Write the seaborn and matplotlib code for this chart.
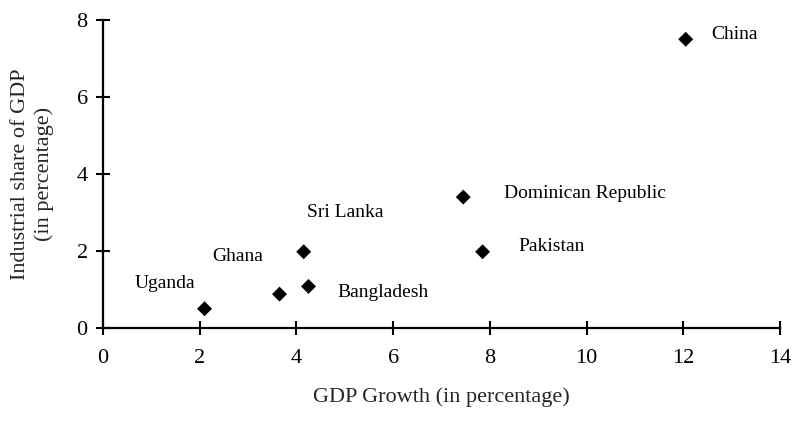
import matplotlib
matplotlib.use("Agg")
import matplotlib.pyplot as plt
import seaborn as sns
import pandas as pd

countries = ["Uganda", "Ghana", "Bangladesh", "Sri Lanka", "Pakistan", "Dominican Republic", "China"]
gdp_growth = [2.1, 3.65, 4.25, 4.15, 7.85, 7.45, 12.05]
industrial_share = [0.5, 0.88, 1.08, 1.98, 1.98, 3.4, 7.5]
x_ticks = [0, 2, 4, 6, 8, 10, 12, 14]
y_ticks = [0, 2, 4, 6, 8]

# label offsets in pixels (dx, dy) relative to each point; ha left
label_offsets = {
    "Uganda": (-70, 25),
    "Ghana": (-67, 38),
    "Sri Lanka": (3, 39),
    "Bangladesh": (29, -6),
    "Pakistan": (36, 5),
    "Dominican Republic": (41, 4),
    "China": (26, 5),
}

df = pd.DataFrame({"country": countries, "x": gdp_growth, "y": industrial_share})

sns.set_style("ticks")
plt.rcParams["font.family"] = ["Liberation Serif", "DejaVu Serif"]
plt.rcParams["font.size"] = 14

fig = plt.figure(figsize=(7.93, 4.21), dpi=100)
ax = fig.add_axes([103/793, 1 - 328/421, (780 - 103)/793, (328 - 20)/421])

sns.scatterplot(data=df, x="x", y="y", marker="D", s=58, color="black",
                edgecolor="none", ax=ax, clip_on=False, zorder=3)

for c, xv, yv in zip(countries, gdp_growth, industrial_share):
    dx, dy = label_offsets[c]
    ax.annotate(c, (xv, yv), xytext=(dx, dy), textcoords="offset pixels",
                ha="left", va="center", fontsize=14, color="black")

ax.set_xlim(0, 14)
ax.set_ylim(0, 8)
ax.set_xticks(x_ticks)
ax.set_yticks(y_ticks)
ax.set_xticklabels([str(t) for t in x_ticks])
ax.set_yticklabels([str(t) for t in y_ticks])
ax.tick_params(direction="inout", length=10, width=1.5, labelsize=16, colors="black", pad=6)
ax.tick_params(axis="x", pad=10)
for s in ["left", "bottom"]:
    ax.spines[s].set_linewidth(1.6)
    ax.spines[s].set_color("black")
sns.despine(ax=ax)

ax.set_xlabel("GDP Growth (in percentage)", fontsize=16, labelpad=14)
ax.set_ylabel("Industrial share of GDP\n(in percentage)", fontsize=16, labelpad=16, linespacing=1.3)

fig.savefig("out.png", dpi=100)
